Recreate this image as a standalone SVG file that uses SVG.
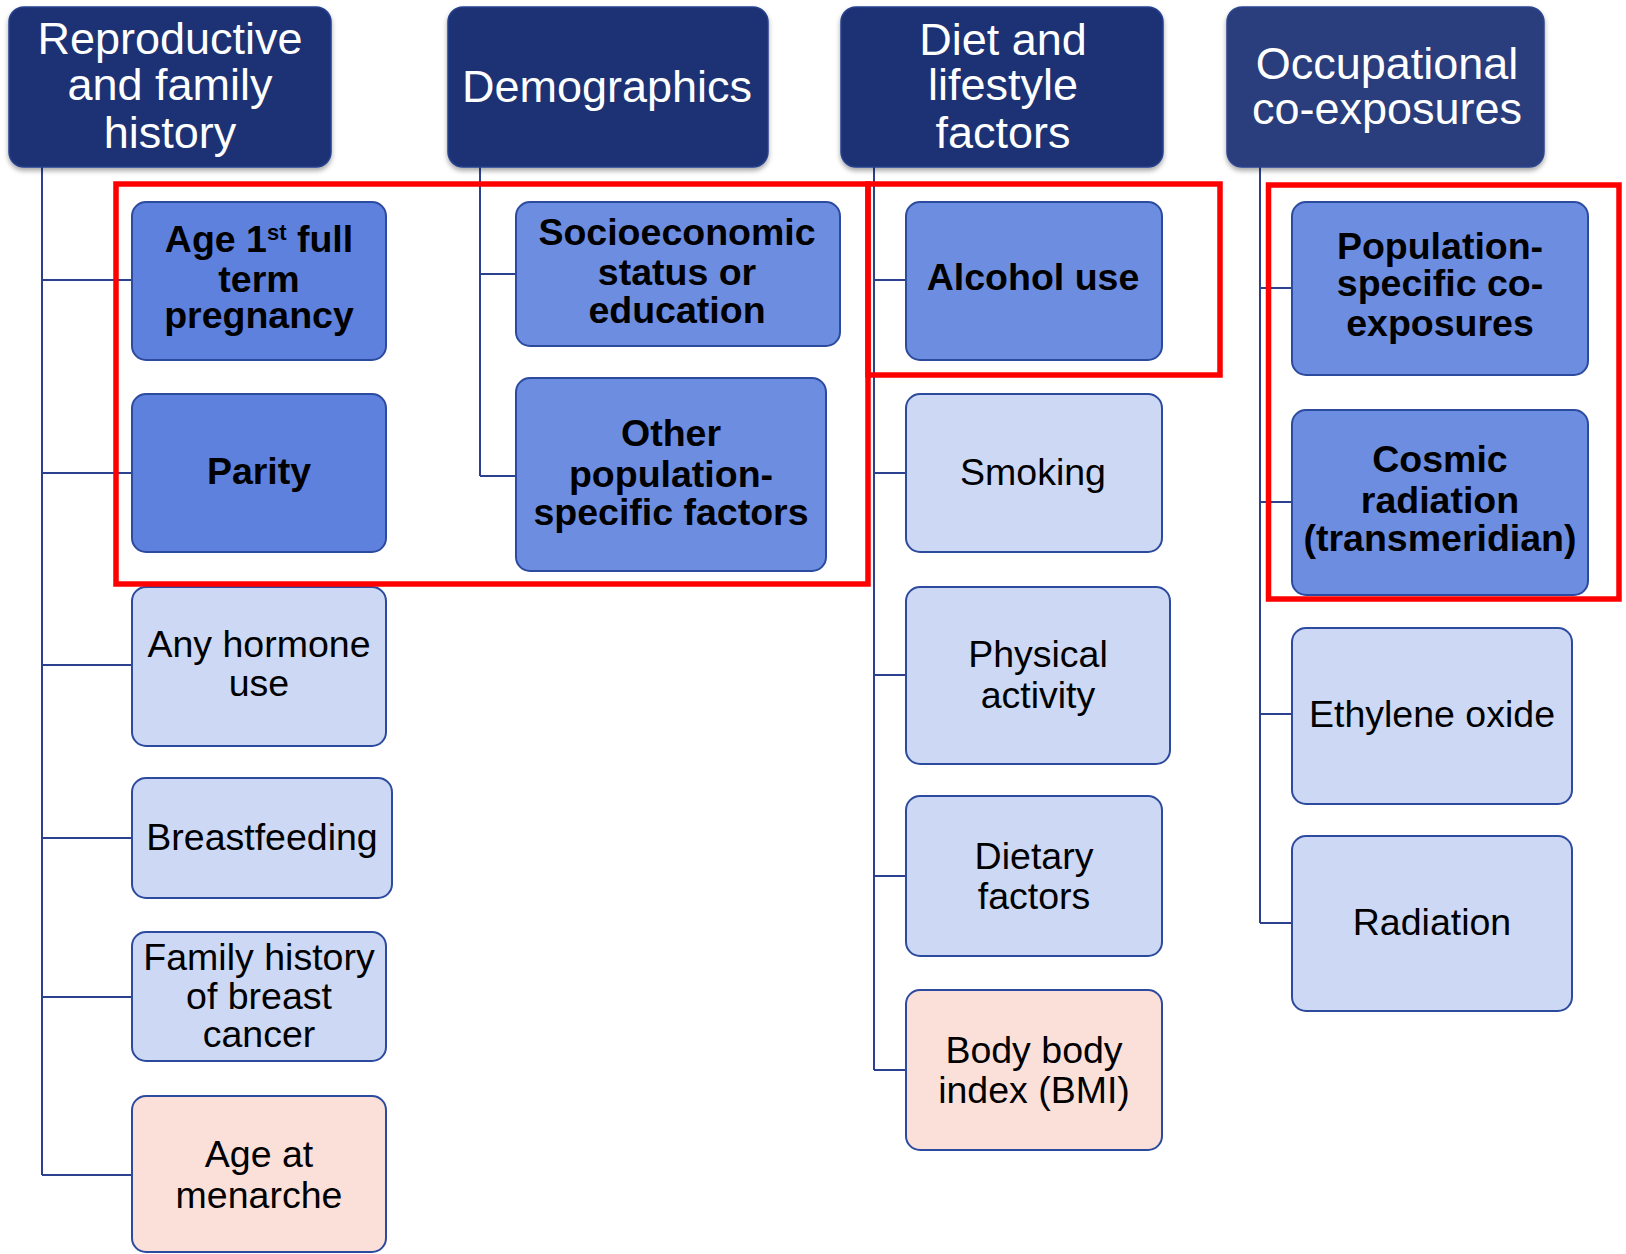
<svg xmlns="http://www.w3.org/2000/svg" width="1626" height="1254" viewBox="0 0 1626 1254">
<defs>
<filter id="sh" x="-5%" y="-5%" width="110%" height="125%">
<feDropShadow dx="0" dy="3" stdDeviation="2.5" flood-color="#000" flood-opacity="0.35"/>
</filter>
</defs>
<style>
.hdr{fill:#1b3274;stroke:#26408e;stroke-width:1.5;filter:url(#sh)}
.hdr4{fill:#293e7b;stroke:#2d4590;stroke-width:1.5;filter:url(#sh)}
.ht{font-family:"Liberation Sans",Arial,sans-serif;font-size:45px;fill:#ffffff;text-anchor:middle}
.nd{stroke:#2c4a9e;stroke-width:2}
.dk{fill:#5e81dd}
.md{fill:#6d8de0}
.lt{fill:#ccd8f4}
.pk{fill:#fbe0da}
.bt{font-family:"Liberation Sans",Arial,sans-serif;font-size:37.5px;font-weight:bold;fill:#000;text-anchor:middle}
.rt{font-family:"Liberation Sans",Arial,sans-serif;font-size:37.5px;fill:#000;text-anchor:middle}
.cn{fill:none;stroke:#2b4190;stroke-width:2}
.red{fill:none;stroke:#ff0000;stroke-width:5.5}
</style>

<g id="connectors">
<path class="cn" d="M42 167V1175M42 280H132M42 473H132M42 665H132M42 838H132M42 997H132M42 1175H132"/>
<path class="cn" d="M480 167V476M480 274H516M480 476H516"/>
<path class="cn" d="M874 167V1070M874 280H906M874 473H906M874 675H906M874 876H906M874 1070H906"/>
<path class="cn" d="M1260 167V923M1260 288H1292M1260 502H1292M1260 714H1292M1260 923H1292"/>
</g>

<g id="header-reproductive">
<rect class="hdr" x="9" y="7" width="322" height="160" rx="15"/>
<text class="ht" x="170" y="54">Reproductive</text>
<text class="ht" x="170" y="100">and family</text>
<text class="ht" x="170" y="148">history</text>
</g>
<g id="header-demographics">
<rect class="hdr" x="448" y="7" width="320" height="160" rx="15"/>
<text class="ht" x="607" y="102">Demographics</text>
</g>
<g id="header-diet">
<rect class="hdr" x="841" y="7" width="322" height="160" rx="15"/>
<text class="ht" x="1003" y="55">Diet and</text>
<text class="ht" x="1003" y="100">lifestyle</text>
<text class="ht" x="1003" y="148">factors</text>
</g>
<g id="header-occupational">
<rect class="hdr4" x="1227" y="7" width="317" height="160" rx="15"/>
<text class="ht" x="1387" y="79">Occupational</text>
<text class="ht" x="1387" y="124">co-exposures</text>
</g>

<g id="node-age1st">
<rect class="nd dk" x="132" y="202" width="254" height="158" rx="14"/>
<text class="bt" x="259" y="252">Age 1<tspan font-size="22" dy="-12">st</tspan><tspan dy="12"> full</tspan></text>
<text class="bt" x="259" y="292">term</text>
<text class="bt" x="259" y="328">pregnancy</text>
</g>
<g id="node-parity">
<rect class="nd dk" x="132" y="394" width="254" height="158" rx="14"/>
<text class="bt" x="259" y="484">Parity</text>
</g>
<g id="node-hormone">
<rect class="nd lt" x="132" y="587" width="254" height="159" rx="14"/>
<text class="rt" x="259" y="657">Any hormone</text>
<text class="rt" x="259" y="696">use</text>
</g>
<g id="node-breastfeeding">
<rect class="nd lt" x="132" y="778" width="260" height="120" rx="14"/>
<text class="rt" x="262" y="850">Breastfeeding</text>
</g>
<g id="node-family">
<rect class="nd lt" x="132" y="932" width="254" height="129" rx="14"/>
<text class="rt" x="259" y="970">Family history</text>
<text class="rt" x="259" y="1009">of breast</text>
<text class="rt" x="259" y="1047">cancer</text>
</g>
<g id="node-menarche">
<rect class="nd pk" x="132" y="1096" width="254" height="156" rx="14"/>
<text class="rt" x="259" y="1167">Age at</text>
<text class="rt" x="259" y="1208">menarche</text>
</g>

<g id="node-socioeconomic">
<rect class="nd md" x="516" y="202" width="324" height="144" rx="14"/>
<text class="bt" x="677" y="245">Socioeconomic</text>
<text class="bt" x="677" y="285">status or</text>
<text class="bt" x="677" y="323">education</text>
</g>
<g id="node-other">
<rect class="nd md" x="516" y="378" width="310" height="193" rx="14"/>
<text class="bt" x="671" y="446">Other</text>
<text class="bt" x="671" y="487">population-</text>
<text class="bt" x="671" y="525">specific factors</text>
</g>

<g id="node-alcohol">
<rect class="nd md" x="906" y="202" width="256" height="158" rx="14"/>
<text class="bt" x="1033" y="290">Alcohol use</text>
</g>
<g id="node-smoking">
<rect class="nd lt" x="906" y="394" width="256" height="158" rx="14"/>
<text class="rt" x="1033" y="485">Smoking</text>
</g>
<g id="node-physical">
<rect class="nd lt" x="906" y="587" width="264" height="177" rx="14"/>
<text class="rt" x="1038" y="667">Physical</text>
<text class="rt" x="1038" y="708">activity</text>
</g>
<g id="node-dietary">
<rect class="nd lt" x="906" y="796" width="256" height="160" rx="14"/>
<text class="rt" x="1034" y="869">Dietary</text>
<text class="rt" x="1034" y="909">factors</text>
</g>
<g id="node-bmi">
<rect class="nd pk" x="906" y="990" width="256" height="160" rx="14"/>
<text class="rt" x="1034" y="1063">Body body</text>
<text class="rt" x="1034" y="1103">index (BMI)</text>
</g>

<g id="node-population">
<rect class="nd md" x="1292" y="202" width="296" height="173" rx="14"/>
<text class="bt" x="1440" y="259">Population-</text>
<text class="bt" x="1440" y="296">specific co-</text>
<text class="bt" x="1440" y="336">exposures</text>
</g>
<g id="node-cosmic">
<rect class="nd md" x="1292" y="410" width="296" height="185" rx="14"/>
<text class="bt" x="1440" y="472">Cosmic</text>
<text class="bt" x="1440" y="513">radiation</text>
<text class="bt" x="1440" y="551">(transmeridian)</text>
</g>
<g id="node-ethylene">
<rect class="nd lt" x="1292" y="628" width="280" height="176" rx="14"/>
<text class="rt" x="1432" y="727">Ethylene oxide</text>
</g>
<g id="node-radiation">
<rect class="nd lt" x="1292" y="836" width="280" height="175" rx="14"/>
<text class="rt" x="1432" y="935">Radiation</text>
</g>

<g id="highlights">
<rect class="red" x="116" y="184" width="752" height="400"/>
<rect class="red" x="868" y="184" width="352" height="191"/>
<rect class="red" x="1268.5" y="185" width="350.5" height="414"/>
</g>
</svg>
